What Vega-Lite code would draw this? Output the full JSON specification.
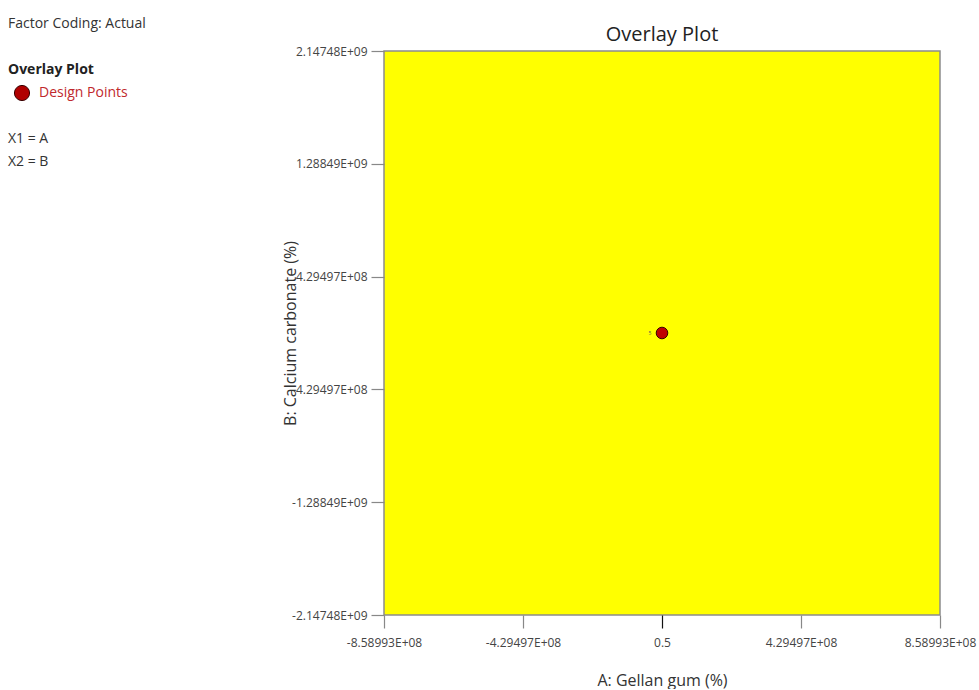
{
  "$schema": "https://vega.github.io/schema/vega-lite/v6.json",
  "padding": {"left": 0, "top": 17, "right": 0, "bottom": 0},
  "background": "white",
  "spacing": 81,
  "align": "none",
  "bounds": "full",
  "config": {"font": "Open Sans", "view": {"stroke": null}},
  "hconcat": [
    {
      "width": 200,
      "height": 161,
      "data": {"values": [
        {"line": 1, "text": "Factor Coding: Actual", "kind": "note"},
        {"line": 3, "text": "Overlay Plot", "kind": "head"},
        {"line": 4, "text": "Design Points", "kind": "legend"},
        {"line": 6, "text": "X1 = A", "kind": "note"},
        {"line": 7, "text": "X2 = B", "kind": "note"}
      ]},
      "encoding": {
        "y": {"field": "line", "type": "quantitative", "scale": {"domain": [1, 8], "reverse": true}, "axis": null}
      },
      "layer": [
        {
          "transform": [{"filter": "datum.kind == 'note'"}],
          "mark": {"type": "text", "align": "left", "baseline": "middle", "fontSize": 14, "color": "#333", "yOffset": -27},
          "encoding": {"x": {"value": 8}, "text": {"field": "text"}}
        },
        {
          "transform": [{"filter": "datum.kind == 'head'"}],
          "mark": {"type": "text", "align": "left", "baseline": "middle", "fontSize": 14, "fontWeight": "bold", "color": "#222", "yOffset": -27},
          "encoding": {"x": {"value": 8}, "text": {"field": "text"}}
        },
        {
          "transform": [{"filter": "datum.kind == 'legend'"}],
          "mark": {"type": "text", "align": "left", "baseline": "middle", "fontSize": 14, "color": "#c0282d", "yOffset": -27},
          "encoding": {"x": {"value": 39}, "text": {"field": "text"}}
        },
        {
          "transform": [{"filter": "datum.kind == 'legend'"}],
          "mark": {"type": "point", "shape": "circle", "filled": true, "size": 230, "color": "#b00000", "stroke": "#3a0000", "strokeWidth": 1, "opacity": 1, "yOffset": -27},
          "encoding": {"x": {"value": 22}}
        }
      ]
    },
    {
      "width": 556,
      "height": 564,
      "view": {"fill": "#ffff00", "stroke": "#8c8c8c", "strokeWidth": 1.5},
      "title": {"text": "Overlay Plot", "fontSize": 20, "fontWeight": "normal", "color": "#222", "offset": 0, "anchor": "middle"},
      "data": {"values": [{"a": 0.5, "b": 0.5, "n": "5"}]},
      "encoding": {
        "x": {
          "field": "a", "type": "quantitative",
          "scale": {"domain": [-858993459.2, 858993459.2], "nice": false, "zero": false},
          "axis": {
            "values": [-858993459.2, -429496729.6, 0.5, 429496729.6, 858993459.2],
            "labelExpr": "datum.value == 0.5 ? '0.5' : (datum.value < 0 ? '-' : '') + format(abs(datum.value) / pow(10, floor(log(abs(datum.value)) / LN10)), '.5f') + 'E+' + (floor(log(abs(datum.value)) / LN10) < 10 ? '0' : '') + floor(log(abs(datum.value)) / LN10)",
            "tickSize": 13, "tickWidth": 1.2,
            "tickColor": {"condition": {"test": "datum.value == 0.5", "value": "#111"}, "value": "#888"},
            "domain": false, "grid": false,
            "labelFontSize": 12, "labelColor": "#444", "labelPadding": 9,
            "labelOverlap": false, "labelFlush": false, "labelBound": false,
            "title": "A: Gellan gum (%)", "titleFontSize": 16, "titleFontWeight": "normal", "titleColor": "#333", "titlePadding": 24
          }
        },
        "y": {
          "field": "b", "type": "quantitative",
          "scale": {"domain": [-2147483648, 2147483648], "nice": false, "zero": false},
          "axis": {
            "values": [-2147483648, -1288490188.8, -429496729.6, 429496729.6, 1288490188.8, 2147483648],
            "labelExpr": "(datum.value < 0 ? '-' : '') + format(abs(datum.value) / pow(10, floor(log(abs(datum.value)) / LN10)), '.5f') + 'E+' + (floor(log(abs(datum.value)) / LN10) < 10 ? '0' : '') + floor(log(abs(datum.value)) / LN10)",
            "tickSize": 13, "tickWidth": 1.2, "tickColor": "#888",
            "domain": false, "grid": false,
            "labelFontSize": 12, "labelColor": "#444", "labelPadding": 4,
            "labelOverlap": false, "labelFlush": false, "labelBound": false,
            "title": "B: Calcium carbonate (%)", "titleFontSize": 16, "titleFontWeight": "normal", "titleColor": "#333", "titlePadding": -7
          }
        }
      },
      "layer": [
        {
          "mark": {"type": "point", "shape": "circle", "filled": true, "size": 135, "color": "#c00000", "stroke": "#3a0000", "strokeWidth": 1, "opacity": 1}
        },
        {
          "mark": {"type": "text", "fontSize": 5, "color": "#555", "dx": -12, "align": "center", "baseline": "middle"},
          "encoding": {"text": {"field": "n"}}
        }
      ]
    }
  ]
}
